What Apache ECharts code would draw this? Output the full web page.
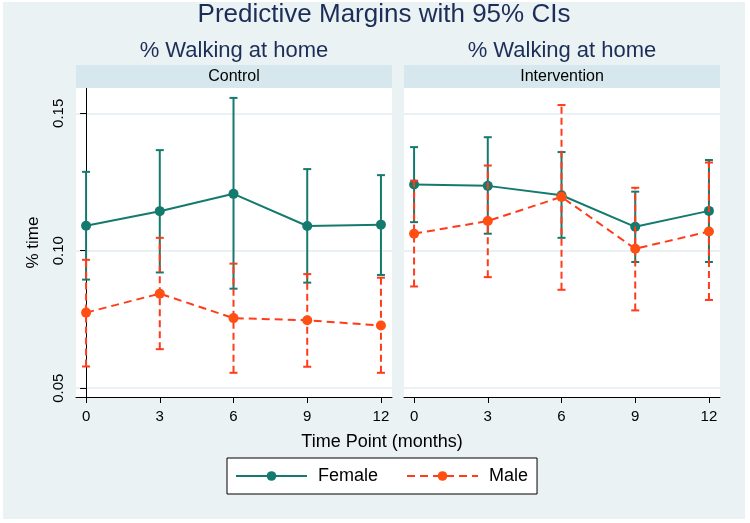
<!DOCTYPE html>
<html>
<head>
<meta charset="utf-8">
<script src="https://cdn.jsdelivr.net/npm/echarts@6/dist/echarts.min.js"></script>
<style>html,body{margin:0;padding:0;background:#fff;}#c{width:750px;height:523px;}</style>
</head>
<body>
<div id="c"></div>
<script>
// ---- data ----
const months = [0, 3, 6, 9, 12];
const xTicks = [0, 3, 6, 9, 12];
const yTicks = [0.05, 0.10, 0.15];
const panelNames = ['Control', 'Intervention'];
const seriesNames = ['Female', 'Male'];

const controlFemaleMean = [0.1091, 0.1144, 0.1207, 0.1090, 0.1095];
const controlFemaleLow  = [0.0895, 0.0921, 0.0862, 0.0884, 0.0912];
const controlFemaleHigh = [0.1287, 0.1366, 0.1556, 0.1297, 0.1275];
const controlMaleMean   = [0.0775, 0.0844, 0.0755, 0.0747, 0.0728];
const controlMaleLow    = [0.0579, 0.0642, 0.0556, 0.0578, 0.0556];
const controlMaleHigh   = [0.0967, 0.1047, 0.0953, 0.0915, 0.0902];

const interFemaleMean = [0.1241, 0.1236, 0.1202, 0.1087, 0.1145];
const interFemaleLow  = [0.1104, 0.1062, 0.1047, 0.0959, 0.0959];
const interFemaleHigh = [0.1377, 0.1413, 0.1359, 0.1215, 0.1330];
const interMaleMean   = [0.1062, 0.1108, 0.1196, 0.1007, 0.1070];
const interMaleLow    = [0.0870, 0.0904, 0.0858, 0.0783, 0.0821];
const interMaleHigh   = [0.1255, 0.1310, 0.1530, 0.1229, 0.1321];

// ---- styles ----
const FONT = 'Liberation Sans, Arial, sans-serif';
const FEMALE = '#157a6e';
const MALE_LINE = '#ff3b1a';
const MALE_MARK = '#ff4f12';
const NAVY = '#1c2d57';
const BG = '#eaf2f4';
const BAND = '#d6e7ed';
const GRIDC = '#e2edf0';

const pts = (m, v) => m.map((x, i) => [x, v[i]]);
const ci = (m, lo, hi) => m.map((x, i) => [x, lo[i], hi[i]]);

function errRender(color, dashed) {
  return function (params, api) {
    const x = api.value(0);
    const a = api.coord([x, api.value(1)]);
    const b = api.coord([x, api.value(2)]);
    const style = { stroke: color, lineWidth: 2, fill: null, lineDash: dashed ? [7, 4] : null };
    const cw = 4;
    return {
      type: 'group',
      children: [
        { type: 'line', shape: { x1: a[0], y1: a[1], x2: b[0], y2: b[1] }, style: style },
        { type: 'line', shape: { x1: a[0] - cw, y1: a[1], x2: a[0] + cw, y2: a[1] }, style: { stroke: color, lineWidth: 2 } },
        { type: 'line', shape: { x1: b[0] - cw, y1: b[1], x2: b[0] + cw, y2: b[1] }, style: { stroke: color, lineWidth: 2 } }
      ]
    };
  };
}

const grids = [
  { left: 76, right: 358, top: 88, bottom: 126, show: true, backgroundColor: '#fff', borderWidth: 0 },
  { left: 404, right: 30, top: 88, bottom: 126, show: true, backgroundColor: '#fff', borderWidth: 0 }
];

function makeX(i) {
  return {
    type: 'value', gridIndex: i, min: -0.41, max: 12.45,
    axisLine: { show: true, onZero: false, lineStyle: { color: '#000', width: 1 } },
    axisTick: { show: true, customValues: xTicks, length: 6, lineStyle: { color: '#000' } },
    axisLabel: { show: true, customValues: xTicks, color: '#000', fontSize: 15, fontFamily: FONT, margin: 12 },
    splitLine: { show: false }
  };
}
function makeY(i) {
  return {
    type: 'value', gridIndex: i, min: 0.0468, max: 0.1592,
    name: i === 0 ? '% time' : '', nameLocation: 'middle', nameGap: 34, nameRotate: 90,
    nameTextStyle: { color: '#000', fontSize: 17, fontFamily: FONT },
    axisLine: { show: i === 0, lineStyle: { color: '#000', width: 1 } },
    axisTick: { show: i === 0, customValues: yTicks, length: 6, lineStyle: { color: '#000' } },
    axisLabel: { show: i === 0, customValues: yTicks, rotate: 90, color: '#000', fontSize: 15, fontFamily: FONT, margin: 10,
      formatter: v => v.toFixed(2) },
    splitLine: { show: true, lineStyle: { color: GRIDC, width: 1.5 } }
  };
}

const panels = [
  [controlFemaleMean, controlFemaleLow, controlFemaleHigh, controlMaleMean, controlMaleLow, controlMaleHigh],
  [interFemaleMean, interFemaleLow, interFemaleHigh, interMaleMean, interMaleLow, interMaleHigh]
];

const series = [];
panels.forEach((p, i) => {
  series.push({
    name: 'Female CI', type: 'custom', xAxisIndex: i, yAxisIndex: i, z: 2,
    renderItem: errRender(FEMALE, false), data: ci(months, p[1], p[2]), silent: true
  });
  series.push({
    name: seriesNames[0], type: 'line', xAxisIndex: i, yAxisIndex: i, z: 3,
    data: pts(months, p[0]), symbol: 'circle', symbolSize: 10,
    lineStyle: { color: FEMALE, width: 2 }, itemStyle: { color: FEMALE }, animation: false
  });
  series.push({
    name: 'Male CI', type: 'custom', xAxisIndex: i, yAxisIndex: i, z: 4,
    renderItem: errRender(MALE_LINE, true), data: ci(months, p[4], p[5]), silent: true
  });
  series.push({
    name: seriesNames[1], type: 'line', xAxisIndex: i, yAxisIndex: i, z: 5,
    data: pts(months, p[3]), symbol: 'circle', symbolSize: 10,
    lineStyle: { color: MALE_LINE, width: 2, type: [8, 5] }, itemStyle: { color: MALE_MARK }, animation: false
  });
});

function txt(x, y, s, size, color) {
  return { type: 'text', x: x, y: y, z: 10,
    style: { text: s, fontSize: size, fontFamily: FONT, fill: color, align: 'center', verticalAlign: 'middle' } };
}

const graphic = [
  { type: 'rect', shape: { x: 3, y: 2, width: 742, height: 517 }, style: { fill: BG }, z: -10 },
  txt(384, 15, 'Predictive Margins with 95% CIs', 26, NAVY),
  txt(234, 51, '% Walking at home', 22, NAVY),
  txt(562, 51, '% Walking at home', 22, NAVY),
  { type: 'rect', shape: { x: 76, y: 65, width: 316, height: 23 }, style: { fill: BAND }, z: 1 },
  { type: 'rect', shape: { x: 404, y: 65, width: 316, height: 23 }, style: { fill: BAND }, z: 1 },
  txt(234, 76.5, panelNames[0], 16, '#000'),
  txt(562, 76.5, panelNames[1], 16, '#000'),
  txt(382, 442, 'Time Point (months)', 18, '#000')
];

const chart = echarts.init(document.getElementById('c'), null, { renderer: 'canvas' });
chart.setOption({
  backgroundColor: '#ffffff',
  animation: false,
  textStyle: { fontFamily: FONT },
  grid: grids,
  xAxis: [makeX(0), makeX(1)],
  yAxis: [makeY(0), makeY(1)],
  legend: {
    data: seriesNames, left: 227, top: 458, orient: 'horizontal',
    itemWidth: 71, itemHeight: 12, itemGap: 28,
    padding: [9, 9, 9, 8],
    backgroundColor: '#fff', borderColor: '#000', borderWidth: 1, borderRadius: 0,
    textStyle: { color: '#000', fontSize: 18, fontFamily: FONT, padding: [0, 0, 0, 6] },
    selectedMode: false
  },
  graphic: graphic,
  series: series
});
</script>
</body>
</html>
